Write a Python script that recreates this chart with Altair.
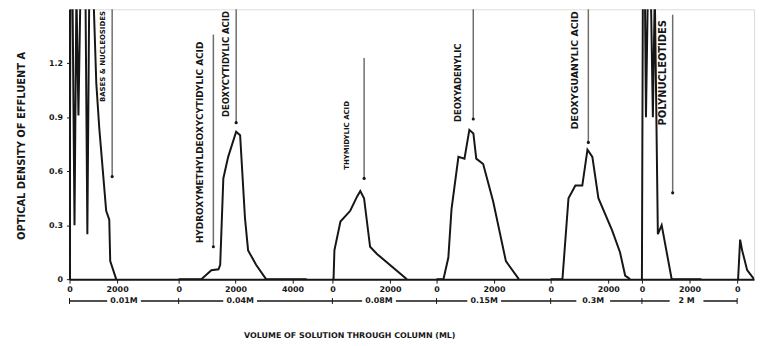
import altair as alt
import pandas as pd

# ---- layout of the seven column segments (x origin in plot px, px per 1000 ml)
seg_offset = [0, 110, 265, 370, 485, 577, 673]
seg_scale = [24, 28.7, 29, 29, 29, 24, 24]
seg_ticks = [[0, 2000], [0, 2000, 4000], [0, 2000], [0, 2000], [0, 2000], [0, 2000], [0]]

# ---- eluting concentrations (one per segment) and where the label sits (ml within segment)
seg_conc = ["0.01M", "0.04M", "0.08M", "0.15M", "0.3M", "2 M"]
conc_vol = [2290, 2160, 1620, 1655, 1480, 1875]

# ---- elution curves: volume (ml) and optical density, per segment (1.6 = off scale)
seg1_vol = [0, 40, 125, 210, 290, 375, 460, 670, 750, 830, 1000, 1125, 1250, 1540, 1670, 1710, 1960]
seg1_od = [0, 1.6, 1.6, 0.30, 1.6, 0.91, 1.6, 1.6, 0.25, 1.6, 1.6, 1.09, 0.84, 0.38, 0.33, 0.10, 0]
seg2_vol = [0, 800, 1150, 1400, 1460, 1570, 1740, 2020, 2160, 2330, 2440, 2720, 3070, 4500]
seg2_od = [0, 0, 0.05, 0.055, 0.08, 0.56, 0.68, 0.82, 0.80, 0.34, 0.16, 0.08, 0, 0]
seg3_vol = [0, 40, 70, 280, 620, 860, 970, 1100, 1310, 1550, 2590]
seg3_od = [0, 0, 0.16, 0.32, 0.38, 0.46, 0.49, 0.45, 0.18, 0.14, 0]
seg4_vol = [0, 240, 410, 520, 760, 970, 1140, 1280, 1380, 1620, 1970, 2410, 2860]
seg4_od = [0, 0, 0.12, 0.39, 0.68, 0.67, 0.83, 0.81, 0.67, 0.64, 0.43, 0.10, 0]
seg5_vol = [0, 410, 620, 860, 1100, 1280, 1450, 1660, 2140, 2410, 2590, 2760]
seg5_od = [0, 0, 0.45, 0.52, 0.52, 0.72, 0.68, 0.45, 0.27, 0.15, 0.02, 0]
seg6_vol = [0, 40, 125, 170, 250, 375, 460, 540, 670, 830, 1250, 2500]
seg6_od = [0, 1.6, 1.6, 0.9, 1.6, 1.6, 0.9, 1.6, 0.25, 0.30, 0, 0]
seg7_vol = [0, 40, 125, 210, 420, 710]
seg7_od = [0, 0, 0.22, 0.16, 0.05, 0]

# ---- peak identifications: segment, text position (ml), text top OD, marker line ml, line top/bottom OD
peak_labels = ["BASES & NUCLEOSIDES", "HYDROXYMETHYLDEOXYCYTIDYLIC ACID", "DEOXYCYTIDYLIC ACID",
               "THYMIDYLIC ACID", "DEOXYADENYLIC", "DEOXYGUANYLIC ACID", "POLYNUCLEOTIDES"]
peak_seg = [0, 1, 1, 2, 3, 4, 5]
peak_text_vol = [1417, 767, 1672, 517, 759, 862, 875]
peak_text_od = [1.49, 1.32, 1.49, 0.99, 1.31, 1.49, 1.44]
peak_line_vol = [1792, 1220, 2021, 1103, 1276, 1310, 1292]
peak_line_top = [1.5, 1.36, 1.5, 1.23, 1.5, 1.5, 1.47]
peak_line_bot = [0.57, 0.18, 0.87, 0.56, 0.89, 0.76, 0.48]
# styling of the peak labels (font size)
peak_font = [7, 9, 8.5, 7, 8.5, 9.5, 10]


def g(seg, vol):
    return seg_offset[seg] + vol * seg_scale[seg] / 1000.0


curves = [(seg1_vol, seg1_od), (seg2_vol, seg2_od), (seg3_vol, seg3_od), (seg4_vol, seg4_od),
          (seg5_vol, seg5_od), (seg6_vol, seg6_od), (seg7_vol, seg7_od)]
rows = []
for s, (vv, oo) in enumerate(curves):
    for i, (v, o) in enumerate(zip(vv, oo)):
        rows.append({"seg": s, "i": i, "g": g(s, v), "od": o})
curve_df = pd.DataFrame(rows)

tick_pos, tick_lab = [], []
for s, ts in enumerate(seg_ticks):
    for t in ts:
        tick_pos.append(round(g(s, t), 2))
        tick_lab.append(str(t))
expr = "'0'"
for p, l in zip(tick_pos, tick_lab):
    expr = f"abs(datum.value-{p})<0.6 ? '{l}' : ({expr})"

peak_df = pd.DataFrame({
    "label": peak_labels,
    "tg": [g(s, v) for s, v in zip(peak_seg, peak_text_vol)],
    "tod": peak_text_od,
    "lg": [g(s, v) for s, v in zip(peak_seg, peak_line_vol)],
    "ltop": peak_line_top,
    "lbot": peak_line_bot,
    "fs": peak_font,
})

# concentration row
hw = 17
conc_rows, seg_rows = [], []
for s, (c, cv) in enumerate(zip(seg_conc, conc_vol)):
    cg = g(s, cv)
    conc_rows.append({"conc": c, "g": cg})
    seg_rows.append({"a": seg_offset[s], "b": cg - hw})
    seg_rows.append({"a": cg + hw, "b": seg_offset[s + 1]})
conc_df = pd.DataFrame(conc_rows)
row_df = pd.DataFrame(seg_rows)
orig_df = pd.DataFrame({"g": seg_offset})

FONT = "DejaVu Sans"
INK = "#161616"
xs = alt.Scale(domain=[0, 690], nice=False, zero=False)
ys = alt.Scale(domain=[0, 1.5], nice=False)

curve = alt.Chart(curve_df).mark_line(color=INK, strokeWidth=2, clip=True).encode(
    x=alt.X("g:Q", scale=xs, axis=alt.Axis(
        values=tick_pos, labelExpr=expr, labelOverlap=False, labelFlush=False,
        labelFontSize=8, labelFont=FONT, labelFontWeight="bold", labelColor=INK,
        tickSize=4, tickColor=INK, domainColor=INK, domainWidth=2, labelPadding=2,
        grid=False, title="VOLUME  OF  SOLUTION  THROUGH  COLUMN  (ML)",
        titleFont=FONT, titleFontSize=8, titleFontWeight="bold", titleColor=INK,
        titleX=282, titleY=57, titleBaseline="middle", titleAlign="center")),
    y=alt.Y("od:Q", scale=ys, axis=alt.Axis(
        values=[0, 0.3, 0.6, 0.9, 1.2],
        labelExpr="datum.value == 0 ? '0' : format(datum.value, '.1f')",
        labelFontSize=8, labelFont=FONT, labelFontWeight="bold", labelColor=INK,
        tickSize=3, tickColor=INK, domainColor=INK, domainWidth=2, labelPadding=4,
        grid=False, title="OPTICAL  DENSITY  OF  EFFLUENT  A",
        titleFont=FONT, titleFontSize=10, titleFontWeight="bold", titleColor=INK,
        titleAngle=270, titleX=-48, titleY=232, titleAlign="left", titleBaseline="middle")),
    detail="seg:N",
    order="i:Q",
)

plines = alt.Chart(peak_df).mark_rule(color="#6e6e6e", strokeWidth=1.5).encode(
    x="lg:Q", y="ltop:Q", y2="lbot:Q")
pdots = alt.Chart(peak_df).mark_point(color=INK, filled=True, size=10, opacity=1).encode(
    x="lg:Q", y="lbot:Q")
ptext = alt.Chart(peak_df).mark_text(angle=270, align="right", baseline="middle",
                                     font=FONT, fontWeight="bold", color=INK).encode(
    x="tg:Q", y="tod:Q", text="label:N",
    size=alt.Size("fs:Q", scale=None, legend=None))

row_line = alt.Chart(row_df).mark_rule(color=INK, strokeWidth=1.5).encode(
    x="a:Q", x2="b:Q", y=alt.value(294))
row_ticks = alt.Chart(orig_df).mark_rule(color=INK, strokeWidth=1).encode(
    x="g:Q", y=alt.value(291), y2=alt.value(297))
row_text = alt.Chart(conc_df).mark_text(font=FONT, fontSize=8, fontWeight="bold", color=INK,
                                        baseline="middle").encode(
    x="g:Q", y=alt.value(294), text="conc:N")

chart = alt.layer(curve, plines, pdots, ptext, row_line, row_ticks, row_text).properties(
    width=690, height=272,
    autosize=alt.AutoSizeParams(type="none"),
    padding={"left": 62, "top": 0, "right": 2, "bottom": 60},
).configure_view(stroke=None).configure(background="white")

chart.save("out.html", embed_options={"renderer": "svg", "actions": False})
